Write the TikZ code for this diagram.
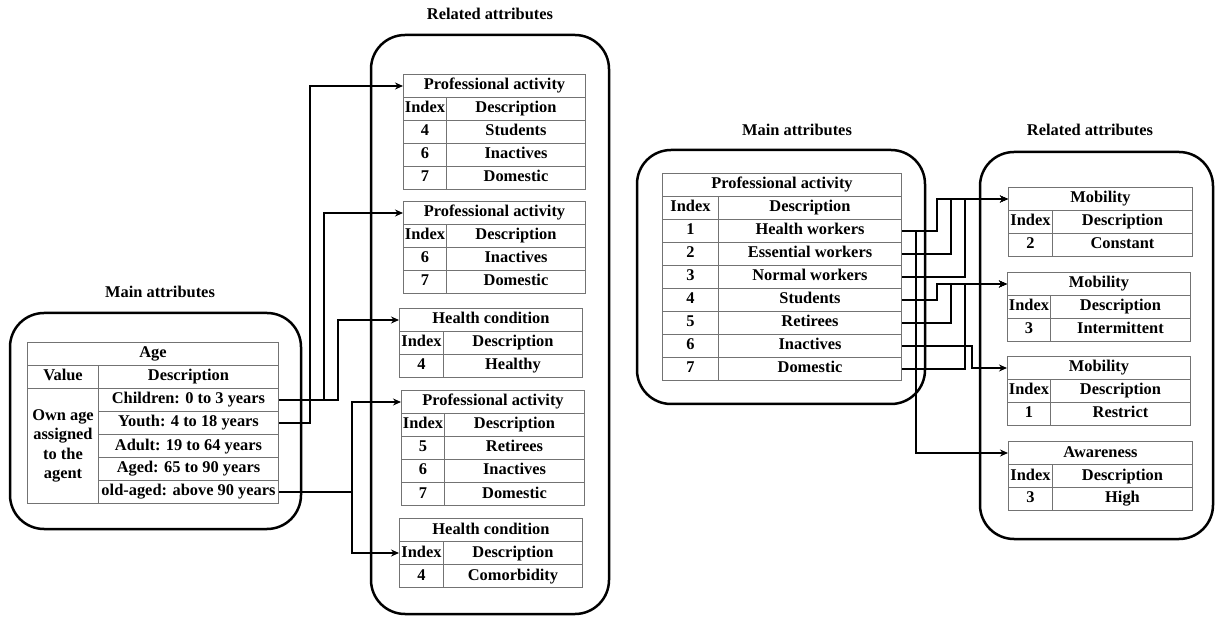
\documentclass[tikz,border=0pt]{standalone}
\usepackage{fontspec}
\setmainfont{Liberation Serif}
\usetikzlibrary{arrows.meta}

% table: name, x, y, index width, description width, title, rows
\newcommand{\attrtab}[7]{%
\node[cell, minimum width={#4+#5}, anchor=north west] (#1-t) at (#2,#3) {#6};
\node[cell, minimum width=#4, anchor=north west] (#1-hi) at (#2,{#3+23}) {Index};
\node[cell, minimum width=#5, anchor=north west] (#1-hd) at ({#2+#4},{#3+23}) {Description};
\foreach \i/\d [count=\n] in {#7} {
  \node[cell, minimum width=#4, anchor=north west] (#1-i\n) at (#2,{#3+23*(\n+1)}) {\i};
  \node[cell, minimum width=#5, anchor=north west] (#1-d\n) at ({#2+#4},{#3+23*(\n+1)}) {\d};
}}

\begin{document}
\begin{tikzpicture}[x=1pt, y=-1pt,
  every node/.style={font=\bfseries\fontsize{16.4}{19.5}\selectfont},
  boxcell/.style={draw=black!55, line width=1pt, minimum height=23, inner sep=0pt},
  cell/.style={boxcell, text height=11.5pt, text depth=3.5pt},
  grpbox/.style={line width=2.5pt, rounded corners=34},
  conn/.style={line width=1.5pt, -{Stealth[length=8pt, width=7pt]}}]
\useasboundingbox (0,0) rectangle (1216,617);

% group boxes
\draw[grpbox] (10,313) rectangle (301,529);
\draw[grpbox] (371,35) rectangle (609,614);
\draw[grpbox] (637,150) rectangle (925,404);
\draw[grpbox] (980,152) rectangle (1213,539);

\node (mainL) at (160,292) {Main attributes};
\node (relL) at (490,14) {Related attributes};
\node (mainR) at (797,130) {Main attributes};
\node (relR) at (1090,130) {Related attributes};

% age table
\node[cell, minimum width=251, anchor=north west] (age-t) at (27,342) {Age};
\node[cell, minimum width=71, anchor=north west] (age-hv) at (27,365) {Value};
\node[cell, minimum width=180, anchor=north west] (age-hd) at (98,365) {Description};
\node[boxcell, minimum width=71, minimum height=115, anchor=north west, align=center] (age-v) at (27,388) {Own age\\assigned\\to the\\agent};
\foreach \d [count=\n] in {Children: 0 to 3 years, Youth: 4 to 18 years, Adult: 19 to 64 years, Aged: 65 to 90 years, old-aged: above 90 years}
  \node[cell, minimum width=180, anchor=north west] (age-d\n) at (98,{388+23*(\n-1)}) {\d};

\attrtab{pa1}{403}{74}{43}{139}{Professional activity}{4/Students, 6/Inactives, 7/Domestic}
\attrtab{pa2}{403}{201}{43}{139}{Professional activity}{6/Inactives, 7/Domestic}
\attrtab{hc1}{399}{308}{44}{139}{Health condition}{4/Healthy}
\attrtab{pa3}{401}{390}{43}{140}{Professional activity}{5/Retirees, 6/Inactives, 7/Domestic}
\attrtab{hc2}{399}{518}{44}{139}{Health condition}{4/Comorbidity}

\attrtab{pr}{662}{173}{56}{183}{Professional activity}{1/Health workers, 2/Essential workers, 3/Normal workers, 4/Students, 5/Retirees, 6/Inactives, 7/Domestic}

\attrtab{mob1}{1008}{187}{44}{140}{Mobility}{2/Constant}
\attrtab{mob2}{1007}{272}{43}{140}{Mobility}{3/Intermittent}
\attrtab{mob3}{1007}{356}{43}{140}{Mobility}{1/Restrict}
\attrtab{aw}{1008}{441}{44}{140}{Awareness}{3/High}

% left connectors
\draw[conn] (age-d2.east) -- ++(31,0) |- (pa1-t.west);
\draw[conn] (age-d1.east) -- ++(45,0) |- (pa2-t.west);
\draw[conn] (age-d1.east) -- ++(59,0) |- (hc1-t.west);
\draw[conn] (age-d5.east) -- ++(73,0) |- (pa3-t.west);
\draw[conn] (age-d5.east) -- ++(73,0) |- (hc2-hi.west);

% right connectors
\draw[conn] (pr-d1.east) -- ++(35,0) |- (mob1-t.west);
\draw[conn] (pr-d2.east) -- ++(49,0) |- (mob1-t.west);
\draw[conn] (pr-d3.east) -- ++(63,0) |- (mob1-t.west);
\draw[conn] (pr-d4.east) -- ++(35,0) |- (mob2-t.west);
\draw[conn] (pr-d5.east) -- ++(49,0) |- (mob2-t.west);
\draw[conn] (pr-d7.east) -- ++(63,0) |- (mob2-t.west);
\draw[conn] (pr-d6.east) -- ++(70,0) |- (mob3-t.west);
\draw[conn] (pr-d1.east) -- ++(14,0) |- (aw-t.west);
\end{tikzpicture}
\end{document}
